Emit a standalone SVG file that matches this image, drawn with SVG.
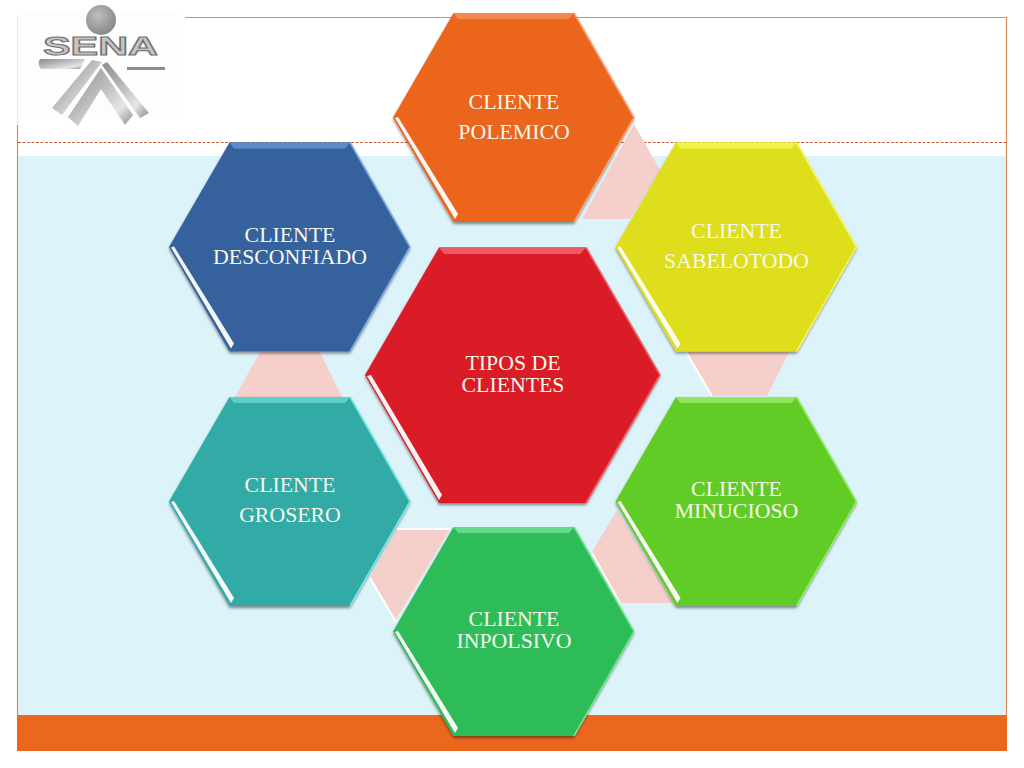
<svg xmlns="http://www.w3.org/2000/svg" width="1024" height="768" viewBox="0 0 1024 768">
<style>
.t{font-family:"Liberation Serif","Times New Roman",serif;font-size:21.8px;fill:#f6f8ee;text-anchor:middle}
.w{fill:#fff;opacity:.95}
.edge{fill:none;stroke-width:1.6;stroke-linejoin:round}
.pink{fill:#f5cfca}
.lg{fill:url(#g)}
</style>
<defs>
<linearGradient id="g" x1="0" y1="0" x2="1" y2="1"><stop offset="0" stop-color="#8a8a8a"/><stop offset=".45" stop-color="#bdbdbd"/><stop offset=".75" stop-color="#e6e6e6"/><stop offset="1" stop-color="#8a8a8a"/></linearGradient>
<radialGradient id="b" cx=".4" cy=".35" r=".7"><stop offset="0" stop-color="#bdbdbd"/><stop offset="1" stop-color="#858585"/></radialGradient>
<filter id="s" x="-5%" y="-5%" width="110%" height="112%"><feDropShadow dx="0" dy="2" stdDeviation="1.5" flood-color="#000" flood-opacity=".45"/></filter>
<filter id="bl"><feGaussianBlur stdDeviation=".7"/></filter>
<polygon id="hx" points="0,104.5 60.5,0 181,0 241,104.5 181,209 60.5,209"/>
<polygon id="st" points="2,105 5,104 65,201 62,206"/>
<polygon id="tp" points="60.5,0 181,0 176,6 65,6"/>
<polyline id="ed" points="181,0 241,104.5 181,209"/>
</defs>

<rect width="1024" height="768" fill="#fff"/>
<g id="background">
<rect x="17.500" y="156" width="989" height="560" fill="#dcf3f9"/>
<rect x="17" y="715" width="990" height="36" fill="#ec671e"/>
<path d="M185 17.500H1006.500V716M17.500 125V716" fill="none" stroke="#dd8a5c" stroke-width="1.2"/>
<path d="M17.500 17V125" fill="none" stroke="#f8e4d8" stroke-width="1.2"/>
<path d="M18 142.500H1006" fill="none" stroke="#b8623c" stroke-width="1.200" stroke-dasharray="3 1.5"/>
</g>

<g id="logo">
<rect x="18" y="12" width="164" height="106" fill="#fdfdfd"/>
<circle cx="101" cy="20" r="15" fill="url(#b)"/>
<text x="100.500" y="55" font-family="Liberation Sans,Arial,sans-serif" font-size="25" font-weight="700" textLength="115" lengthAdjust="spacingAndGlyphs" text-anchor="middle" fill="#c4c4c4" stroke="#6f6f6f" stroke-width="1">SENA</text>
<g filter="url(#bl)">
<path class="lg" d="M40 59H85L80 69H41Q37 64 40 59Z"/>
<path d="M127 67H165V70H127Z" fill="#8c8c8c"/>
<path class="lg" d="M92 60 102 62 62 115 52 108Z"/>
<path class="lg" d="M107 62 149 113 140 118 102 65Z"/>
<path class="lg" d="M68 117 101 68 133 115 125 125 101 89 78 126Z"/>
</g>
</g>

<g id="connectors">
<polygon class="pink" points="634,124 660,170 630,219 582,219"/>
<polygon class="pink" points="685,352 789,352 767,396 712,396"/>
<path d="M686,352 712,396" stroke="#fff" stroke-width="2" fill="none"/>
<polygon class="pink" points="617,510 592,552 620,603 673,603"/>
<path d="M592,553 620,603" stroke="#fff" stroke-width="2" fill="none"/>
<polygon class="pink" points="397,529 450,529 395,621 370,578"/>
<path d="M397,529H450M370,578 396,622" stroke="#fff" stroke-width="2" fill="none"/>
<polygon class="pink" points="260,352 320,352 342,397 235,397"/>
</g>

<g id="node-polemico" transform="translate(393,13)">
<use href="#hx" fill="#eb651c" filter="url(#s)"/><use href="#tp" fill="#f28a4f"/><use href="#st" class="w"/><use href="#ed" class="edge" stroke="#f9a273"/>
<text class="t" x="121" y="96">CLIENTE</text><text class="t" x="121" y="126">POLEMICO</text>
</g>
<g id="node-desconfiado" transform="translate(169,142.500)">
<use href="#hx" fill="#36629c" filter="url(#s)"/><use href="#tp" fill="#5a8ccb"/><use href="#st" class="w"/><use href="#ed" class="edge" stroke="#7ea9de"/>
<text class="t" x="121" y="99">CLIENTE</text><text class="t" x="121" y="121">DESCONFIADO</text>
</g>
<g id="node-sabelotodo" transform="translate(615.500,142.500)">
<use href="#hx" fill="#dede1b" filter="url(#s)"/><use href="#tp" fill="#f3f34c"/><use href="#st" class="w"/><use href="#ed" class="edge" stroke="#f5f55f"/>
<text class="t" x="121" y="95">CLIENTE</text><text class="t" x="121" y="125">SABELOTODO</text>
</g>
<g id="node-grosero" transform="translate(169,397)">
<use href="#hx" fill="#33aaa6" filter="url(#s)"/><use href="#tp" fill="#5fcfca"/><use href="#st" class="w"/><use href="#ed" class="edge" stroke="#73e8e3"/>
<text class="t" x="121" y="95">CLIENTE</text><text class="t" x="121" y="125">GROSERO</text>
</g>
<g id="node-minucioso" transform="translate(615.500,397)">
<use href="#hx" fill="#62cc26" filter="url(#s)"/><use href="#tp" fill="#8ee85a"/><use href="#st" class="w"/><use href="#ed" class="edge" stroke="#93ec62"/>
<text class="t" x="121" y="99">CLIENTE</text><text class="t" x="121" y="121">MINUCIOSO</text>
</g>
<g id="node-inpolsivo" transform="translate(393,527)">
<use href="#hx" fill="#2ebc58" filter="url(#s)"/><use href="#tp" fill="#63dc88"/><use href="#st" class="w"/><use href="#ed" class="edge" stroke="#6ee493"/>
<text class="t" x="121" y="99">CLIENTE</text><text class="t" x="121" y="121">INPOLSIVO</text>
</g>
<g id="node-tipos">
<polygon points="365,375 439,247.500 586,247.500 660,375 586,503 439,503" fill="#da1c28" filter="url(#s)"/>
<polygon points="439,247.500 586,247.500 580,254 444,254" fill="#ec5a64"/>
<polygon points="367,376 371,375 442,495 439,500" class="w"/>
<polyline class="edge" points="586,247.500 660,375 586,503" stroke="#f0606a"/>
<text class="t" x="513" y="370">TIPOS DE</text><text class="t" x="513" y="392">CLIENTES</text>
</g>
</svg>
